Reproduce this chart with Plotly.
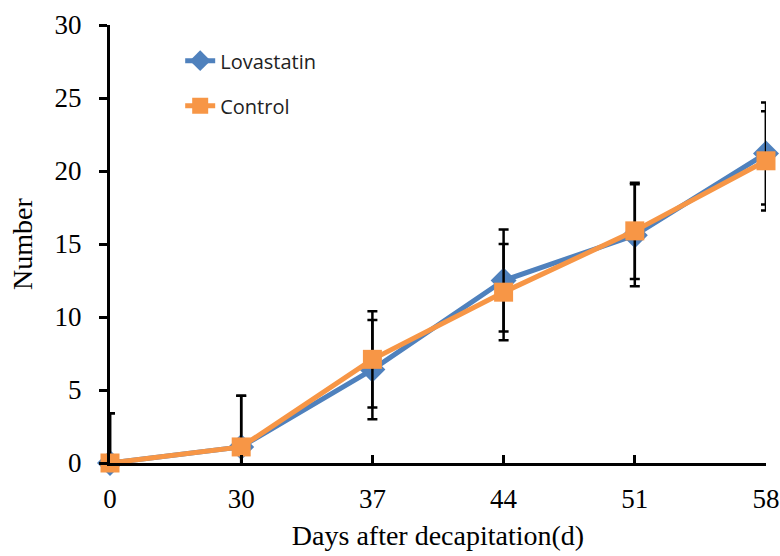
import plotly.graph_objects as go

days = ["0", "30", "37", "44", "51", "58"]
lovastatin = [0.0, 1.1, 6.4, 12.5, 15.6, 21.2]
lovastatin_err = [3.4, 3.5, 3.4, 3.5, 3.5, 3.5]
control = [0.0, 1.1, 7.1, 11.7, 15.9, 20.7]
control_err = [3.4, 3.5, 3.3, 3.3, 3.3, 3.4]

xpos = list(range(len(days)))

fig = go.Figure()
fig.add_trace(go.Scatter(
    x=xpos, y=lovastatin, name="Lovastatin", mode="lines+markers",
    legendgroup="a",
    line=dict(color="#4F81BD", width=5),
    marker=dict(symbol="diamond", size=20, color="#4F81BD"),
    error_y=dict(type="data", array=lovastatin_err, visible=True,
                 color="black", thickness=2.5, width=5),
    cliponaxis=False,
))
fig.add_trace(go.Scatter(
    x=xpos, y=control, name="Control", mode="lines+markers",
    legendgroup="b",
    line=dict(color="#F79646", width=5),
    marker=dict(symbol="square", size=19, color="#F79646"),
    error_y=dict(type="data", array=control_err, visible=True,
                 color="black", thickness=2.5, width=5),
    cliponaxis=False,
))

serif = "Liberation Serif, Times New Roman, serif"

fig.update_layout(
    width=780, height=556,
    margin=dict(l=110, r=14, t=25, b=93, autoexpand=False),
    plot_bgcolor="white", paper_bgcolor="white",
    showlegend=True,
    legend=dict(x=0.107, y=0.963, xanchor="left", yanchor="top",
                traceorder="grouped", tracegroupgap=16,
                font=dict(family="Open Sans, Liberation Sans, Arial, sans-serif", size=20, color="#222"),
                bgcolor="rgba(0,0,0,0)"),
    xaxis=dict(
        range=[0, 5], tickmode="array", tickvals=xpos, ticktext=days,
        showgrid=False, zeroline=False, automargin=False,
        showline=True, linecolor="black", linewidth=3,
        ticks="inside", ticklen=8, tickwidth=2.5, tickcolor="black",
        tickfont=dict(family=serif, size=27, color="black"),
        ticklabelstandoff=10,
        title=dict(text="Days after decapitation(d)", font=dict(family=serif, size=28, color="black"), standoff=12),
    ),
    yaxis=dict(
        range=[0, 30], dtick=5,
        showgrid=False, zeroline=False, automargin=False,
        showline=True, linecolor="black", linewidth=3,
        ticks="outside", ticklen=8, tickwidth=2.5, tickcolor="black",
        tickfont=dict(family=serif, size=27, color="black"),
        ticklabelstandoff=12,
        title=dict(text="Number", font=dict(family=serif, size=28, color="black"), standoff=14),
    ),
)

fig.write_html("out.html")
